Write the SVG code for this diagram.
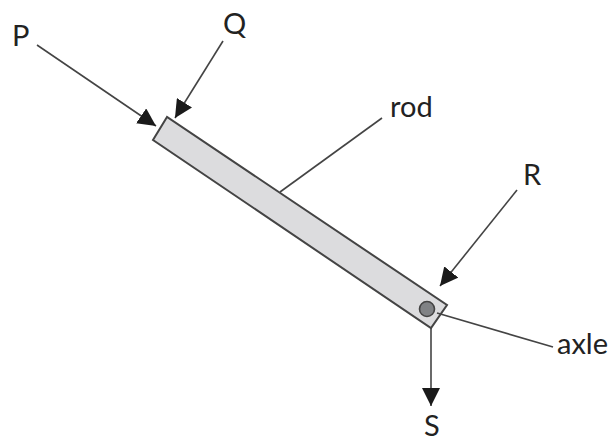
<svg xmlns="http://www.w3.org/2000/svg" width="611" height="442" viewBox="0 0 611 442">
<style>
.l{stroke:#444;stroke-width:1.6;fill:none}
.a{stroke:#444;stroke-width:1.6;fill:none;marker-end:url(#h)}
text{font-family:Lato,"Liberation Sans",sans-serif;font-size:29px;fill:#222}
</style>
<defs><marker id="h" viewBox="0 0 18 18" refX="18" refY="9" markerWidth="18" markerHeight="18" markerUnits="userSpaceOnUse" orient="auto"><path d="M0 0L18 9L0 18Z" fill="#1a1a1a"/></marker></defs>
<rect width="611" height="442" fill="#fff"/>
<g id="rod"><polygon points="167,117 153,140 431,328 447,305" fill="#dcdcde" stroke="#444" stroke-width="2"/></g>
<g id="axle"><circle cx="427" cy="309" r="7.5" fill="#808285" stroke="#444" stroke-width="1.6"/></g>
<g id="connectors">
<line class="a" x1="37" y1="45" x2="156" y2="126"/>
<line class="a" x1="223" y1="41" x2="175" y2="118"/>
<line class="a" x1="517" y1="190" x2="440" y2="286"/>
<line class="a" x1="431" y1="328" x2="431" y2="406"/>
<line class="l" x1="382" y1="118" x2="280" y2="192"/>
<line class="l" x1="437" y1="313" x2="553" y2="347"/>
</g>
<g id="labels">
<text x="12" y="46">P</text>
<text x="223" y="34">Q</text>
<text x="390" y="117">rod</text>
<text x="523" y="185">R</text>
<text x="557" y="354">axle</text>
<text x="424" y="436">S</text>
</g>
</svg>
